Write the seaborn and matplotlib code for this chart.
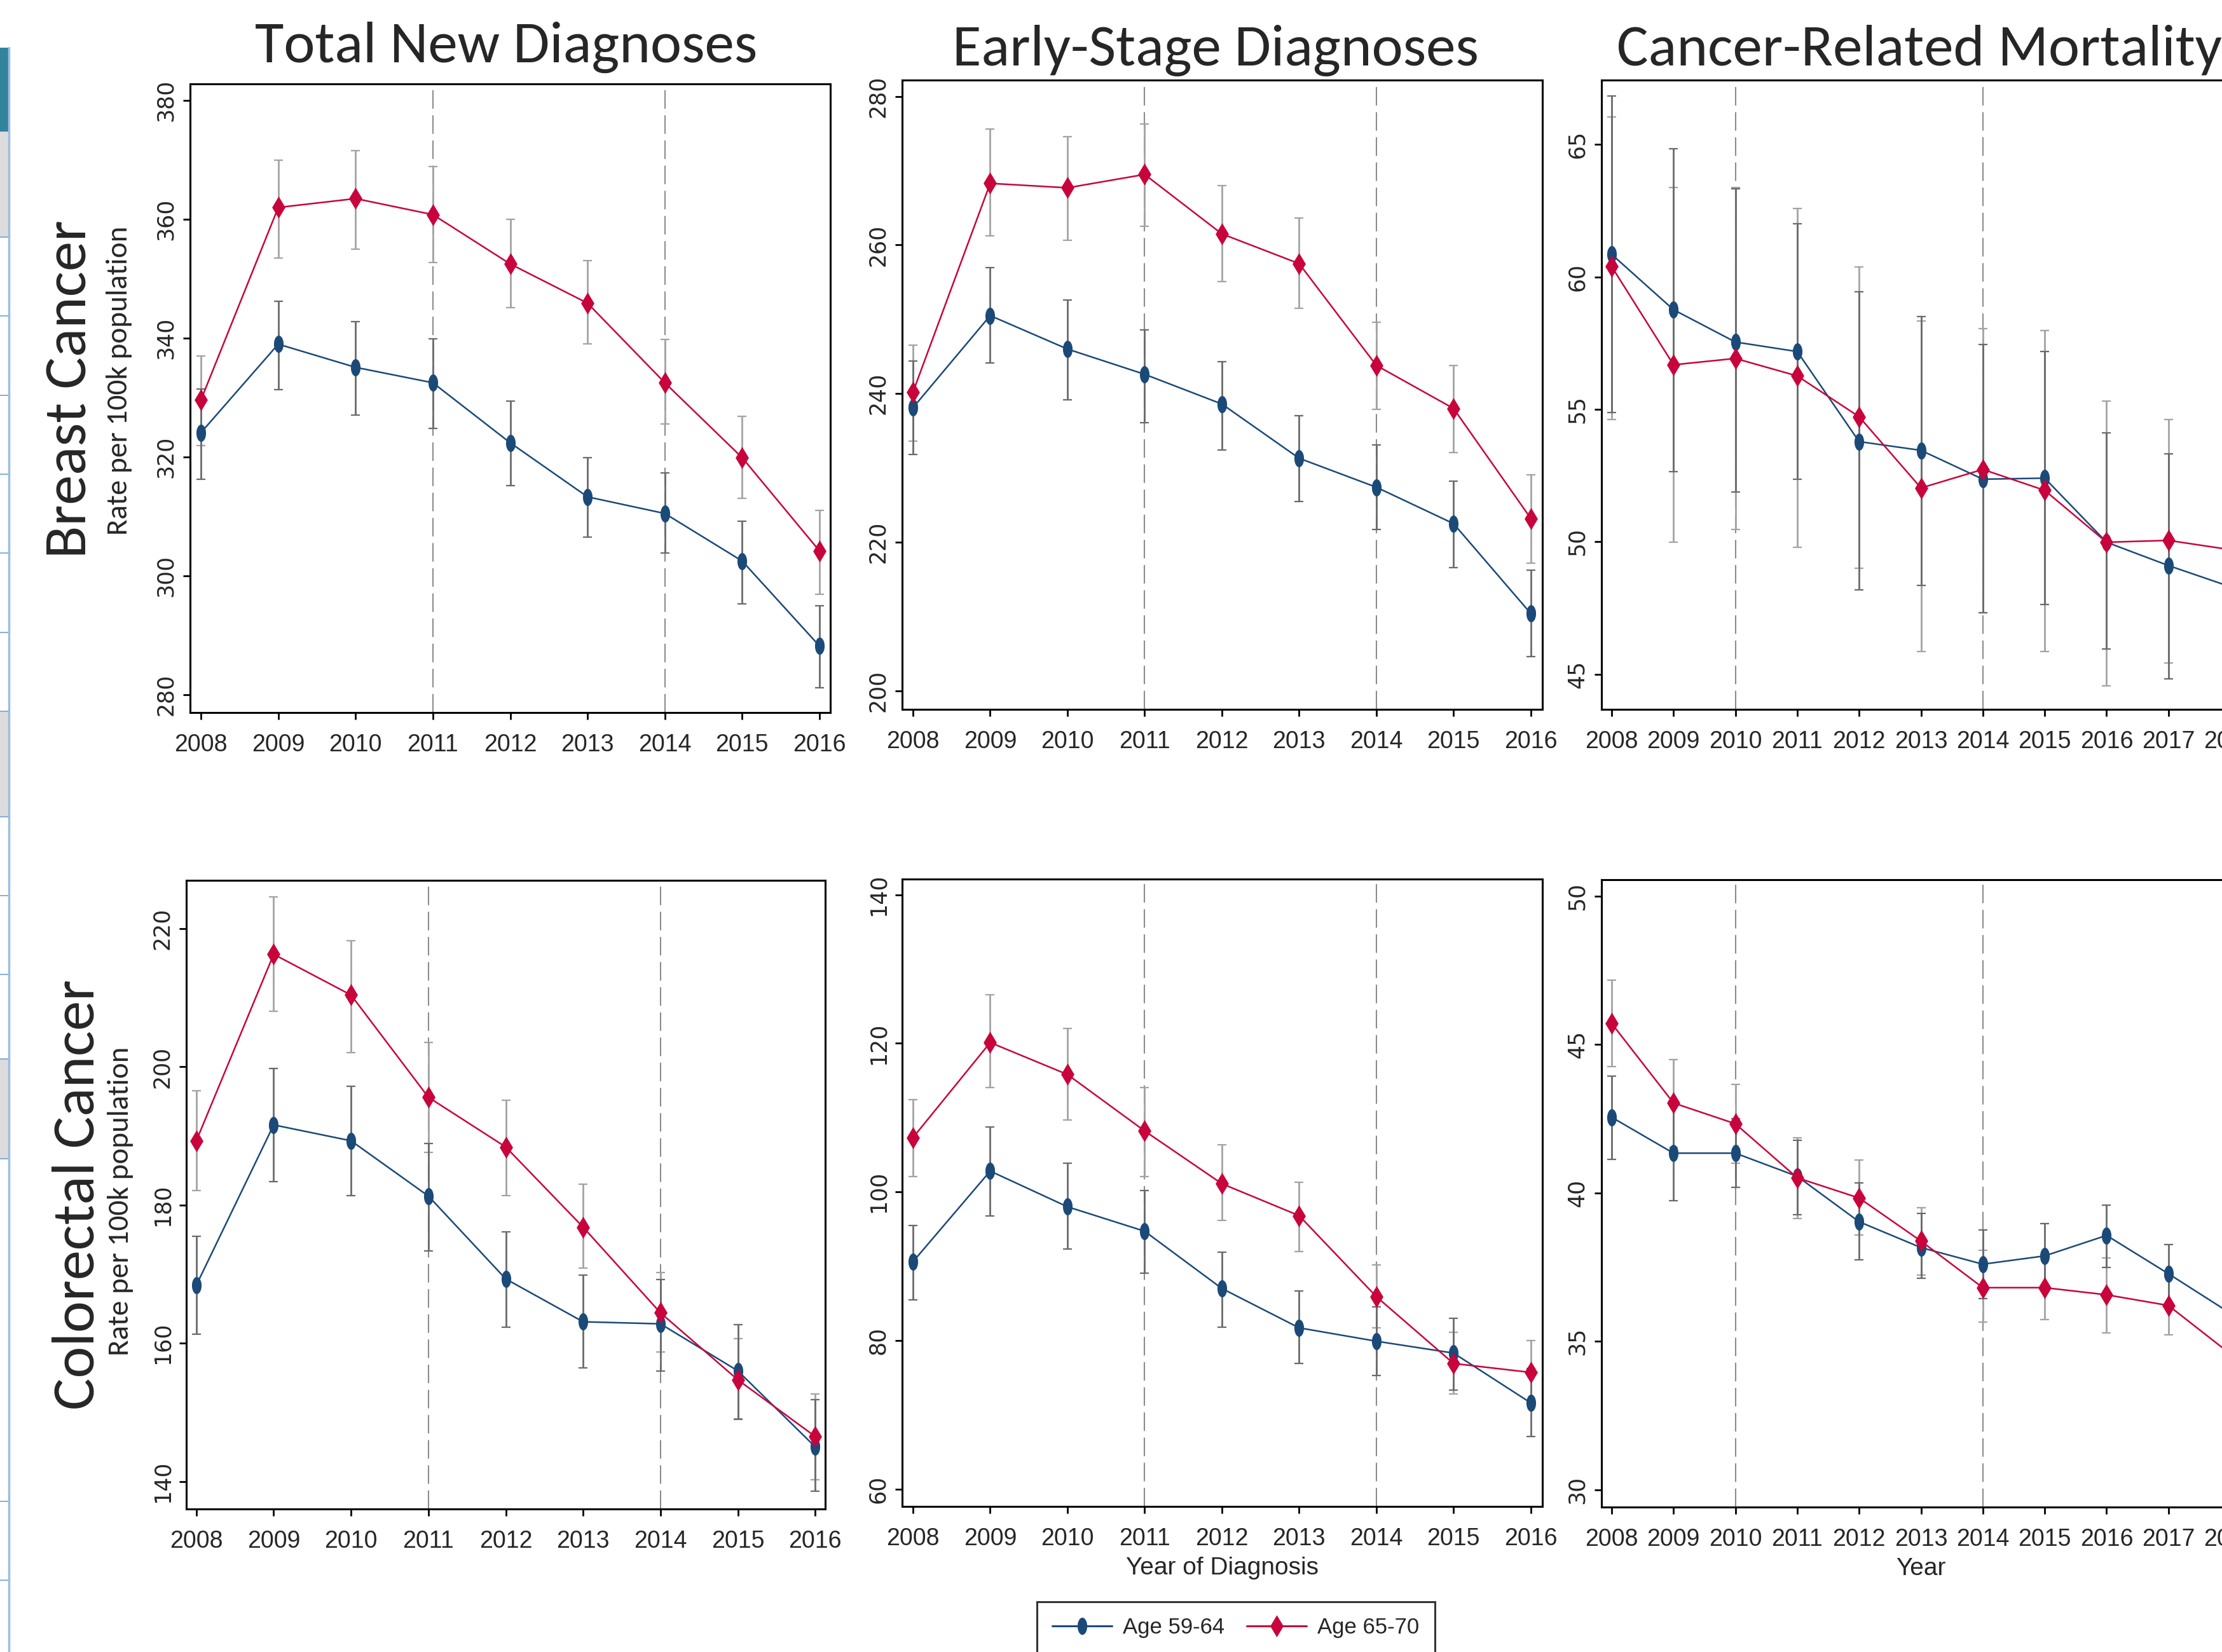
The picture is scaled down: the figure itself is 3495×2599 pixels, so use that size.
import matplotlib
matplotlib.use("Agg")
import matplotlib.pyplot as plt
from matplotlib import font_manager
from matplotlib.font_manager import FontProperties
from matplotlib.patches import Rectangle
from matplotlib.lines import Line2D
import numpy as np
import pandas as pd
import seaborn as sns

# ---- data ----
years_dx = [2008, 2009, 2010, 2011, 2012, 2013, 2014, 2015, 2016]
years_mort = [2008, 2009, 2010, 2011, 2012, 2013, 2014, 2015, 2016, 2017, 2018]

# Breast cancer - total new diagnoses
bt_young = [324.1, 339.0, 335.1, 332.5, 322.4, 313.3, 310.5, 302.5, 288.2]
bt_young_lo = [316.3, 331.3, 327.1, 324.8, 315.2, 306.5, 303.8, 295.3, 281.2]
bt_young_hi = [331.4, 346.2, 342.8, 339.9, 329.4, 319.9, 317.3, 309.2, 295.0]
bt_old = [329.6, 362.0, 363.5, 360.8, 352.5, 345.9, 332.5, 319.9, 304.2]
bt_old_lo = [321.9, 353.5, 355.0, 352.7, 345.1, 339.0, 325.6, 313.0, 296.9]
bt_old_hi = [337.0, 370.0, 371.6, 368.9, 360.0, 353.1, 339.8, 326.8, 311.0]

# Breast cancer - early-stage diagnoses
be_young = [238.1, 250.5, 246.0, 242.6, 238.6, 231.3, 227.4, 222.5, 210.4]
be_young_lo = [231.8, 244.1, 239.2, 236.1, 232.4, 225.5, 221.7, 216.6, 204.6]
be_young_hi = [244.4, 257.0, 252.6, 248.6, 244.3, 237.0, 233.1, 228.2, 216.2]
be_old = [240.2, 268.3, 267.7, 269.5, 261.5, 257.5, 243.8, 238.0, 223.2]
be_old_lo = [233.6, 261.2, 260.6, 262.5, 255.1, 251.5, 237.9, 232.1, 217.2]
be_old_hi = [246.5, 275.6, 274.6, 276.3, 268.0, 263.6, 249.6, 243.8, 229.1]

# Breast cancer - mortality
bm_young = [60.85, 58.76, 57.54, 57.18, 53.78, 53.45, 52.36, 52.40, 49.98, 49.10, 48.30]
bm_young_lo = [54.88, 52.64, 51.87, 52.36, 48.18, 48.36, 47.31, 47.64, 45.94, 44.83, 44.20]
bm_young_hi = [66.82, 64.85, 63.33, 62.00, 59.44, 58.50, 57.45, 57.19, 54.11, 53.32, 52.50]
bm_old = [60.39, 56.68, 56.92, 56.26, 54.72, 52.03, 52.73, 51.94, 49.98, 50.05, 49.70]
bm_old_lo = [54.62, 49.98, 50.47, 49.79, 49.00, 45.85, 47.31, 45.85, 44.56, 45.42, 45.30]
bm_old_hi = [66.05, 63.38, 63.38, 62.59, 60.37, 58.33, 58.04, 57.97, 55.30, 54.62, 54.20]

# Colorectal cancer - total new diagnoses
ct_young = [168.4, 191.6, 189.3, 181.3, 169.3, 163.1, 162.8, 156.0, 145.0]
ct_young_lo = [161.3, 183.4, 181.4, 173.4, 162.3, 156.4, 156.0, 149.0, 138.6]
ct_young_hi = [175.5, 199.8, 197.2, 188.9, 176.1, 169.9, 169.2, 162.7, 151.8]
ct_old = [189.3, 216.3, 210.4, 195.6, 188.4, 176.8, 164.4, 154.7, 146.5]
ct_old_lo = [182.1, 208.0, 202.1, 187.6, 181.4, 170.9, 158.7, 149.1, 140.2]
ct_old_hi = [196.5, 224.6, 218.3, 203.5, 195.2, 183.0, 170.2, 160.7, 152.7]

# Colorectal cancer - early-stage diagnoses
ce_young = [90.6, 102.8, 98.0, 94.7, 87.0, 81.7, 79.9, 78.3, 71.6]
ce_young_lo = [85.5, 96.8, 92.3, 89.1, 81.8, 76.9, 75.3, 73.3, 67.1]
ce_young_hi = [95.5, 108.7, 103.9, 100.2, 91.9, 86.7, 84.5, 83.0, 76.2]
ce_old = [107.3, 120.1, 115.8, 108.2, 101.1, 96.8, 85.9, 76.9, 75.7]
ce_old_lo = [102.1, 114.0, 109.7, 102.1, 96.2, 92.0, 81.7, 72.8, 71.4]
ce_old_hi = [112.4, 126.5, 122.0, 114.0, 106.3, 101.3, 90.2, 81.1, 80.0]

# Colorectal cancer - mortality
cm_young = [42.55, 41.34, 41.34, 40.56, 39.03, 38.16, 37.60, 37.88, 38.57, 37.28, 35.95]
cm_young_lo = [41.13, 39.73, 40.19, 39.26, 37.74, 37.13, 36.44, 36.74, 37.49, 36.21, 34.90]
cm_young_hi = [43.93, 42.95, 42.50, 41.77, 40.33, 39.32, 38.75, 38.96, 39.58, 38.27, 37.00]
cm_old = [45.71, 43.03, 42.33, 40.51, 39.83, 38.38, 36.81, 36.81, 36.57, 36.21, 34.58]
cm_old_lo = [44.25, 41.54, 41.00, 39.14, 38.59, 37.24, 35.66, 35.73, 35.29, 35.22, 33.50]
cm_old_hi = [47.16, 44.50, 43.65, 41.86, 41.11, 39.51, 38.06, 37.86, 37.81, 37.19, 35.60]

groups = ["Age 59-64", "Age 65-70"]
col_titles = ["Total New Diagnoses", "Early-Stage Diagnoses", "Cancer-Related Mortality"]
row_titles = ["Breast Cancer", "Colorectal Cancer"]


def pick_font(names):
    for n in names:
        try:
            font_manager.findfont(FontProperties(family=n), fallback_to_default=False)
            return n
        except ValueError:
            pass
    return "DejaVu Sans"


NARROW = pick_font(["Liberation Sans Narrow", "Arial Narrow", "Liberation Sans"])
HUMAN = pick_font(["Carlito", "Lato", "Open Sans"])

sns.set_style("ticks")
plt.rcParams["font.family"] = ["DejaVu Sans"]

BLUE = "#1b4a78"
RED = "#c8043c"
W, H = 3495, 2599

fig = plt.figure(figsize=(W / 100, H / 100), dpi=100, facecolor="white")

# powerpoint thumbnail strip on the left edge
fig.add_artist(Rectangle((0, 1 - 207 / H), 13 / W, 132 / H, transform=fig.transFigure,
                         facecolor="#31849b", edgecolor="none"))
for top, bot in [(207, 373), (1119, 1285), (1666, 1823)]:
    fig.add_artist(Rectangle((0, 1 - bot / H), 13 / W, (bot - top) / H, transform=fig.transFigure,
                             facecolor="#dcdcdc", edgecolor="none"))
for yy in [373, 497, 622, 746, 870, 995, 1119, 1285, 1409, 1533, 1666, 1823, 2362, 2486]:
    fig.add_artist(Line2D([0, 13 / W], [1 - yy / H] * 2, transform=fig.transFigure,
                          color="#6f9fd8", lw=1.2))
fig.add_artist(Line2D([14 / W] * 2, [0, 1 - 75 / H], transform=fig.transFigure,
                      color="#9dbce6", lw=2.5))

ell = np.linspace(0, 2 * np.pi, 41)
circ_marker = list(zip(0.28 * np.cos(ell), 0.5 * np.sin(ell)))
diam_marker = [(0, 0.5), (0.3, 0), (0, -0.5), (-0.3, 0), (0, 0.5)]


def add_ax(l, r, t, b):
    return fig.add_axes([l / W, 1 - b / H, (r - l) / W, (b - t) / H])


def draw_panel(ax, years, yv, ylo, yhi, ov, olo, ohi):
    df = pd.DataFrame({
        "year": years + years,
        "rate": yv + ov,
        "lo": ylo + olo,
        "hi": yhi + ohi,
        "group": [groups[0]] * len(years) + [groups[1]] * len(years),
    })
    styles = {
        groups[0]: (BLUE, circ_marker, 19.5, "#6a6a6a", 3),
        groups[1]: (RED, diam_marker, 25, "#a3a3a3", 4),
    }
    for g in [groups[1], groups[0]]:
        sub = df[df.group == g]
        ax.errorbar(sub.year, sub.rate, yerr=[sub.rate - sub.lo, sub.hi - sub.rate], fmt="none",
                    ecolor=styles[g][3], elinewidth=2.0, capsize=5, capthick=1.6, zorder=2)
    for g in groups:
        color, mk, ms, _, z = styles[g]
        sub = df[df.group == g]
        sns.lineplot(data=sub, x="year", y="rate", color=color, marker=mk, markersize=ms,
                     markeredgewidth=0, linewidth=1.8, errorbar=None, legend=False, ax=ax, zorder=z)


panels = [
    # (l, r, t, b, ylim, yticks, xlim, years, data, vlines)
    (299, 1306, 132, 1121, (277.0, 382.8), range(280, 381, 20), (2007.86, 2016.14), years_dx,
     (bt_young, bt_young_lo, bt_young_hi, bt_old, bt_old_lo, bt_old_hi), (2011, 2014)),
    (1419, 2426, 126, 1116, (197.5, 282.2), range(200, 281, 20), (2007.86, 2016.15), years_dx,
     (be_young, be_young_lo, be_young_hi, be_old, be_old_lo, be_old_hi), (2011, 2014)),
    (2519, 3524, 126, 1116, (43.67, 67.43), range(45, 66, 5), (2007.836, 2018.164), years_mort,
     (bm_young, bm_young_lo, bm_young_hi, bm_old, bm_old_lo, bm_old_hi), (2010, 2014)),
    (293, 1298, 1385, 2374, (136.0, 227.0), range(140, 221, 20), (2007.87, 2016.13), years_dx,
     (ct_young, ct_young_lo, ct_young_hi, ct_old, ct_old_lo, ct_old_hi), (2011, 2014)),
    (1419, 2426, 1383, 2370, (57.66, 142.1), range(60, 141, 20), (2007.86, 2016.15), years_dx,
     (ce_young, ce_young_lo, ce_young_hi, ce_old, ce_old_lo, ce_old_hi), (2011, 2014)),
    (2519, 3524, 1384, 2371, (29.42, 50.55), range(30, 51, 5), (2007.836, 2018.164), years_mort,
     (cm_young, cm_young_lo, cm_young_hi, cm_old, cm_old_lo, cm_old_hi), (2010, 2014)),
]

axes = []
for l, r, t, b, ylim, yticks, xlim, years, data, vl in panels:
    ax = add_ax(l, r, t, b)
    for x in vl:
        ax.axvline(x, color="#8c8c8c", lw=1.5, dashes=(14, 5), zorder=1)
    draw_panel(ax, years, *[list(d) for d in data])
    ax.set_xlim(*xlim)
    ax.set_ylim(*ylim)
    ax.set_xticks(years, labels=[str(y) for y in years], fontsize=27, fontfamily=NARROW)
    ax.set_yticks(list(yticks), labels=[str(v) for v in yticks], fontsize=25,
                  fontfamily="DejaVu Sans", rotation=90, va="center")
    ax.tick_params(axis="both", direction="out", length=8, width=2, color="black")
    ax.tick_params(axis="x", pad=16)
    ax.tick_params(axis="y", pad=7)
    for s in ax.spines.values():
        s.set_visible(True)
        s.set_color("black")
        s.set_linewidth(2.2)
    ax.set_xlabel("")
    ax.set_ylabel("")
    ax.set_facecolor("white")
    axes.append(ax)

axes[4].set_xlabel("Year of Diagnosis", fontsize=28, fontfamily=NARROW, labelpad=7)
axes[5].set_xlabel("Year", fontsize=28, fontfamily=NARROW, labelpad=7)

# column titles
fig.text(796 / W, 1 - 98 / H, col_titles[0], ha="center", va="baseline", fontsize=67, family=HUMAN)
fig.text(1912 / W, 1 - 103 / H, col_titles[1], ha="center", va="baseline", fontsize=67, family=HUMAN)
fig.text(2543 / W, 1 - 103 / H, col_titles[2], ha="left", va="baseline", fontsize=67, family=HUMAN)

# row titles and y-axis titles
for txt, bx, cy in [(row_titles[0], 135, 612), (row_titles[1], 148, 1880)]:
    fig.text(bx / W, 1 - cy / H, txt, rotation=90, rotation_mode="anchor", ha="center",
             va="baseline", fontsize=68, family=HUMAN)
for bx, cy in [(200, 599), (202, 1890)]:
    fig.text(bx / W, 1 - cy / H, "Rate per 100k population", rotation=90, rotation_mode="anchor",
             ha="center", va="baseline", fontsize=34, family=HUMAN)

# legend
handles = [
    Line2D([], [], color=BLUE, lw=2.2, marker=circ_marker, markersize=19.5, markeredgewidth=0),
    Line2D([], [], color=RED, lw=2.2, marker=diam_marker, markersize=25, markeredgewidth=0),
]
leg = fig.legend(handles, groups, loc="upper left", bbox_to_anchor=(1631 / W, 1 - 2520 / H),
                 ncol=2, frameon=True, fancybox=False, borderaxespad=0, borderpad=0.7,
                 handlelength=2.7, handletextpad=0.5, columnspacing=1.0,
                 prop={"family": NARROW, "size": 25})
leg.get_frame().set_edgecolor("black")
leg.get_frame().set_linewidth(2.2)

fig.savefig("out.png", dpi=100, facecolor="white")
